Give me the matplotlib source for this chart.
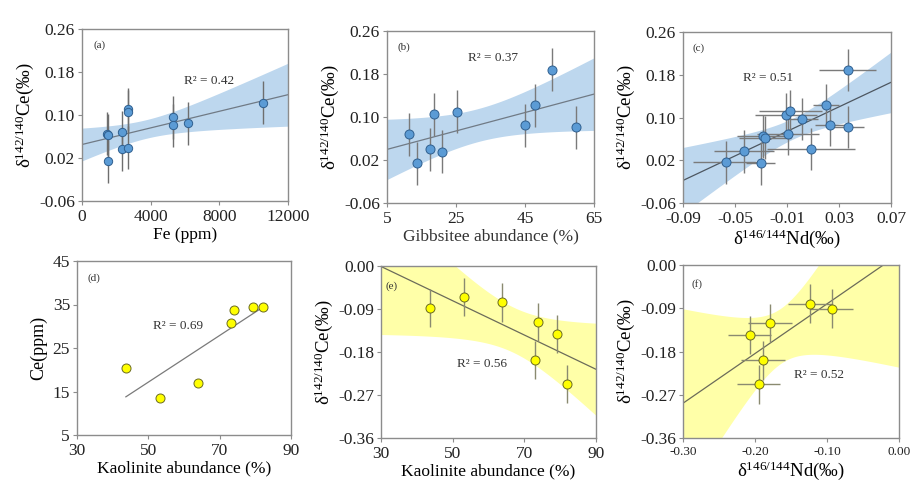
import numpy as np
import matplotlib
matplotlib.use("Agg")
import matplotlib.pyplot as plt
from matplotlib.ticker import FormatStrFormatter

plt.rcParams['font.family'] = ['Liberation Serif', 'DejaVu Serif']
plt.rcParams['mathtext.fontset'] = 'custom'
plt.rcParams['mathtext.rm'] = 'Liberation Serif'
plt.rcParams['mathtext.it'] = 'Liberation Serif:italic'
plt.rcParams['axes.unicode_minus'] = False

# ---------------- data ----------------
# (a) Fe vs d142Ce
fe_ppm = [1480, 1530, 1534, 2348, 2348, 2697, 2697, 2697, 5301, 5301, 6157, 10544]
ce_a = [0.065, 0.062, 0.014, 0.068, 0.036, 0.111, 0.106, 0.039, 0.096, 0.081, 0.085, 0.123]
ce_a_err = [0.04] * 12

# (b) Gibbsite vs d142Ce
gibbsite = [11.3, 13.6, 17.4, 18.6, 20.9, 25.4, 45.0, 48.0, 52.9, 59.8]
ce_b = [0.068, 0.014, 0.040, 0.105, 0.035, 0.110, 0.085, 0.122, 0.188, 0.081]
ce_b_err = [0.04] * 10

# (c) d146Nd vs d142Ce
nd_c = [-0.0571, -0.0432, -0.0303, -0.0285, -0.0267, -0.0108, -0.0074, -0.0092,
        0.0016, 0.0083, 0.0201, 0.0232, 0.0368, 0.0371]
ce_c = [0.016, 0.037, 0.014, 0.065, 0.062, 0.105, 0.112, 0.069,
        0.097, 0.041, 0.123, 0.086, 0.189, 0.082]
nd_c_err = [0.025, 0.023, 0.011, 0.020, 0.020, 0.024, 0.024, 0.024,
            0.012, 0.034, 0.010, 0.012, 0.022, 0.012]
ce_c_err = [0.04] * 14

# (d) Kaolinite vs Ce ppm
kaol_d = [43.7, 53.4, 64.0, 73.1, 73.9, 79.3, 82.1]
ce_ppm = [20.4, 13.4, 16.9, 30.8, 33.7, 34.5, 34.5]

# (e) Kaolinite vs d142Ce
kaol_e = [43.7, 53.3, 63.8, 73.7, 73.0, 79.0, 81.8]
ce_e = [-0.0875, -0.0656, -0.0762, -0.118, -0.196, -0.143, -0.247]
ce_e_err = [0.04] * 7

# (f) d146Nd vs d142Ce
nd_f = [-0.2071, -0.1793, -0.1890, -0.1946, -0.1235, -0.0933]
ce_f = [-0.146, -0.121, -0.1987, -0.2485, -0.0803, -0.0907]
nd_f_err = [0.03] * 6
ce_f_err = [0.04] * 6

# tick labels
yticks_top = [-0.06, 0.02, 0.10, 0.18, 0.26]
yticks_bot = [-0.36, -0.27, -0.18, -0.09, 0.00]
ylabels_bot = ["-0.36", "-0.27", "-0.18", "-0.09", "0.00"]
xticks_f = [-0.30, -0.20, -0.10, 0.00]
xlabels_f = ["-0.30", "-0.20", "-0.10", "0.00"]

r2_labels = ["R\u00b2 = 0.42", "R\u00b2 = 0.37", "R\u00b2 = 0.51",
             "R\u00b2 = 0.69", "R\u00b2 = 0.56", "R\u00b2 = 0.52"]
panel_labels = ["(a)", "(b)", "(c)", "(d)", "(e)", "(f)"]

# t critical values (95%, two-sided) by degrees of freedom
T95 = {4: 2.776, 5: 2.571, 8: 2.306, 10: 2.228, 12: 2.179}

BLUE = '#5b9bd5'
BLUE_EDGE = '#2f5f8f'
BLUE_BAND = '#bdd7ee'
YEL = '#ffff00'
YEL_EDGE = '#6b6b20'
YEL_BAND = '#ffffa8'

W, H = 924, 496
fig = plt.figure(figsize=(W / 100, H / 100), dpi=100)


def make_ax(l, r, t, b):
    return fig.add_axes([l / W, 1 - b / H, (r - l) / W, (b - t) / H])


def fit_band(ax, x, y, xlim, band_color, line_color, band=True, full=True):
    x = np.asarray(x, float)
    y = np.asarray(y, float)
    n = len(x)
    slope, inter = np.polyfit(x, y, 1)
    if full:
        xs = np.linspace(xlim[0], xlim[1], 300)
    else:
        xs = np.linspace(x.min(), x.max(), 300)
    yh = inter + slope * xs
    if band:
        res = y - (inter + slope * x)
        s = np.sqrt(np.sum(res ** 2) / (n - 2))
        sxx = np.sum((x - x.mean()) ** 2)
        hw = T95[n - 2] * s * np.sqrt(1.0 / n + (xs - x.mean()) ** 2 / sxx)
        ax.fill_between(xs, yh - hw, yh + hw, color=band_color, lw=0, zorder=1)
    ax.plot(xs, yh, color=line_color, lw=0.9, zorder=2)


def style(ax, xlim, ylim, xticks, yticks, yfmt=None, xfmt=None, xsize=12.5,
          ylabels=None, xlabels=None):
    ax.set_xlim(xlim)
    ax.set_ylim(ylim)
    ax.set_xticks(xticks)
    ax.set_yticks(yticks)
    if yfmt:
        ax.yaxis.set_major_formatter(FormatStrFormatter(yfmt))
    if xfmt:
        ax.xaxis.set_major_formatter(FormatStrFormatter(xfmt))
    if ylabels:
        ax.set_yticklabels(ylabels)
    if xlabels:
        ax.set_xticklabels(xlabels)
    for sp in ax.spines.values():
        sp.set_color('#8c8c8c')
        sp.set_linewidth(1.0)
    ax.tick_params(direction='out', length=3, width=0.8, color='#8c8c8c',
                   labelcolor='#222222')
    ax.tick_params(axis='y', labelsize=12.5, pad=2)
    ax.tick_params(axis='x', labelsize=xsize, pad=3)


ce_label = 'δ$^{142/140}$Ce(‰)'
nd_label = 'δ$^{146/144}$Nd(‰)'

# ---------- (a) ----------
ax = make_ax(82, 288, 29, 201)
xl, yl = (0, 12000), (-0.06, 0.26)
fit_band(ax, fe_ppm, ce_a, xl, BLUE_BAND, '#707a85')
ax.errorbar(fe_ppm, ce_a, yerr=ce_a_err, fmt='o', ms=6, mfc=BLUE, mec=BLUE_EDGE,
            mew=0.7, ecolor='#6e6e6e', elinewidth=1.0, capsize=0, zorder=3)
style(ax, xl, yl, [0, 4000, 8000, 12000], yticks_top, yfmt='%.2f')
ax.set_xlabel('Fe (ppm)', fontsize=12.5, labelpad=1)
ax.set_ylabel(ce_label, fontsize=13.5, labelpad=2)

# ---------- (b) ----------
ax = make_ax(387, 594, 31, 203)
xl = (5, 65)
fit_band(ax, gibbsite, ce_b, xl, BLUE_BAND, '#707a85')
ax.errorbar(gibbsite, ce_b, yerr=ce_b_err, fmt='o', ms=6.5, mfc=BLUE, mec=BLUE_EDGE,
            mew=0.7, ecolor='#7a7a7a', elinewidth=1.0, capsize=0, zorder=3)
style(ax, xl, yl, [5, 25, 45, 65], yticks_top, yfmt='%.2f')
ax.set_xlabel('Gibbsitee abundance (%)', fontsize=12.5, labelpad=1, color='#333333')
ax.set_ylabel(ce_label, fontsize=13.5, labelpad=2)

# ---------- (c) ----------
ax = make_ax(683, 891, 32, 203)
xl = (-0.09, 0.07)
fit_band(ax, nd_c, ce_c, xl, BLUE_BAND, '#4d5660')
ax.errorbar(nd_c, ce_c, xerr=nd_c_err, yerr=ce_c_err, fmt='o', ms=6.5, mfc=BLUE,
            mec=BLUE_EDGE, mew=0.7, ecolor='#7a7a7a', elinewidth=1.0, capsize=0, zorder=3)
style(ax, xl, yl, [-0.09, -0.05, -0.01, 0.03, 0.07], yticks_top,
      yfmt='%.2f', xfmt='%.2f')
ax.set_xlabel(nd_label, fontsize=13.5, labelpad=0)
ax.set_ylabel(ce_label, fontsize=13.5, labelpad=2)

# ---------- (d) ----------
ax = make_ax(77, 291, 261, 435)
xl, yld = (30, 90), (5, 45)
fit_band(ax, kaol_d, ce_ppm, xl, None, '#7a7a7a', band=False, full=False)
ax.plot(kaol_d, ce_ppm, 'o', ms=6.5, mfc=YEL, mec=YEL_EDGE, mew=0.7, zorder=3)
style(ax, xl, yld, [30, 50, 70, 90], [5, 15, 25, 35, 45])
ax.set_xlabel('Kaolinite abundance (%)', fontsize=12.5, labelpad=1)
ax.set_ylabel('Ce(ppm)', fontsize=13, labelpad=4)

# ---------- (e) ----------
ax = make_ax(381, 596, 266, 438)
yle = (-0.36, 0.0)
fit_band(ax, kaol_e, ce_e, xl, YEL_BAND, '#6b6b5a')
ax.errorbar(kaol_e, ce_e, yerr=ce_e_err, fmt='o', ms=6.5, mfc=YEL, mec=YEL_EDGE,
            mew=0.7, ecolor='#8a8a70', elinewidth=1.0, capsize=0, zorder=3)
style(ax, xl, yle, [30, 50, 70, 90], yticks_bot, ylabels=ylabels_bot)
ax.set_xlabel('Kaolinite abundance (%)', fontsize=12.5, labelpad=1)
ax.set_ylabel(ce_label, fontsize=13.5, labelpad=2)

# ---------- (f) ----------
ax = make_ax(683, 899, 265, 438)
xlf = (-0.30, 0.0)
fit_band(ax, nd_f, ce_f, xlf, YEL_BAND, '#6b6b5a')
ax.errorbar(nd_f, ce_f, xerr=nd_f_err, yerr=ce_f_err, fmt='o', ms=6.5, mfc=YEL,
            mec=YEL_EDGE, mew=0.7, ecolor='#8a8a70', elinewidth=1.0, capsize=0, zorder=3)
style(ax, xlf, yle, xticks_f, yticks_bot, ylabels=ylabels_bot,
      xlabels=xlabels_f, xsize=9.5)
ax.set_xlabel(nd_label, fontsize=13.5, labelpad=1)
ax.set_ylabel(ce_label, fontsize=13.5, labelpad=2)

# ---------- annotations ----------
r2_pos = [(0.617, 0.698), (0.512, 0.843), (0.41, 0.73),
          (0.47, 0.626), (0.47, 0.43), (0.63, 0.364)]
lab_pos = [(0.083, 0.907), (0.082, 0.907), (0.077, 0.906),
           (0.08, 0.90), (0.05, 0.88), (0.065, 0.89)]
for a, t, p, lt, lp in zip(fig.axes, r2_labels, r2_pos, panel_labels, lab_pos):
    a.text(p[0], p[1], t, transform=a.transAxes, ha='center', va='center',
           fontsize=9.5, color='#333333', zorder=5)
    a.text(lp[0], lp[1], lt, transform=a.transAxes, ha='center', va='center',
           fontsize=8, color='#333333', zorder=5)

fig.savefig('out.png', dpi=100)
